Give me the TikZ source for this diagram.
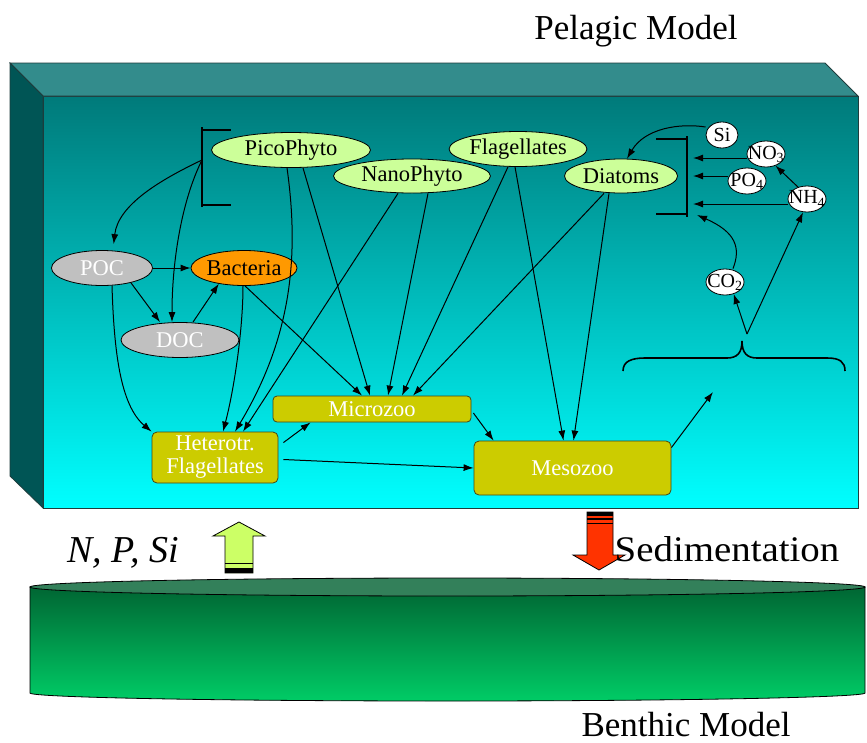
\documentclass[tikz,border=0pt]{standalone}
\usepackage{fontspec}
\setmainfont{Liberation Serif}
\usetikzlibrary{shapes.geometric,arrows.meta}
\definecolor{topface}{RGB}{51,140,140}
\definecolor{leftface}{RGB}{0,85,85}
\definecolor{frtop}{RGB}{0,122,122}
\definecolor{frbot}{RGB}{0,255,255}
\definecolor{edgec}{RGB}{30,60,60}
\definecolor{phyto}{RGB}{204,255,153}
\definecolor{greyc}{RGB}{192,192,192}
\definecolor{bactc}{RGB}{255,153,0}
\definecolor{zooc}{RGB}{204,204,0}
\definecolor{zooedge}{RGB}{70,70,20}
\definecolor{disktop}{RGB}{51,128,90}
\definecolor{diskhi}{RGB}{0,102,51}
\definecolor{disklo}{RGB}{0,204,102}
\definecolor{uparr}{RGB}{204,255,102}
\definecolor{dnarr}{RGB}{255,51,0}
\begin{document}
\begin{tikzpicture}[x=1pt,y=-1pt,
  lab/.style={font=\rmfamily\fontsize{22.5}{23}\selectfont},
  ell/.style={ellipse, draw=black, line width=0.8pt, inner sep=0pt, lab},
  phy/.style={ell, fill=phyto},
  gry/.style={ell, fill=greyc, text=white},
  bac/.style={ell, fill=bactc},
  zoo/.style={rectangle, rounded corners=5pt, draw=zooedge, line width=0.8pt, fill=zooc, text=white, inner sep=0pt, lab, align=center},
  nut/.style={ellipse, draw=black, line width=0.8pt, fill=white, inner sep=0pt, minimum width=38pt, minimum height=26pt, font=\rmfamily\fontsize{20}{20}\selectfont},
  arr/.style={-{Latex[length=10pt,width=7pt]}, line width=1pt},
  brk/.style={line width=2.2pt, line cap=butt},
  big/.style={font=\rmfamily\fontsize{35}{40}\selectfont, inner sep=0pt, anchor=base}
]
\useasboundingbox (0,0) rectangle (867,742);
\fill[white] (0,0) rectangle (867,742);

% pelagic box
\draw[draw=edgec, line width=0.8pt, top color=frtop, bottom color=frbot] (43,96) rectangle (858,508);
\draw[draw=edgec, line width=0.8pt, fill=topface] (10,63) -- (825,63) -- (858,96) -- (43,96) -- cycle;
\draw[draw=edgec, line width=0.8pt, fill=leftface] (10,63) -- (43,96) -- (43,508) -- (10,476) -- cycle;

% benthic disk
\draw[draw=black, line width=0.8pt, top color=diskhi, bottom color=disklo] (30,587) -- (30,693) arc[start angle=180, end angle=0, x radius=417.5, y radius=8] -- (865,587) -- cycle;
\draw[draw=black, line width=0.8pt, fill=disktop] (447.5,587) ellipse[x radius=417.5, y radius=9];

% block arrows
\draw[fill=uparr, line width=0.8pt] (239,522) -- (265,536) -- (253,536) -- (253,573) -- (225,573) -- (225,536) -- (213,536) -- cycle;
\fill (225,567.5) rectangle (253,573);
\draw[line width=1.2pt] (225,563.5) -- (253,563.5);
\draw[fill=dnarr, line width=0.8pt] (587,512) -- (613,512) -- (613,555) -- (625,555) -- (599,570) -- (573,555) -- (587,555) -- cycle;
\fill (587,512) rectangle (613,515.5);
\draw[line width=1.2pt] (587,519) -- (613,519);
\draw[line width=1pt] (587,523) -- (613,523);

% titles
\node[big] (tpel) at (636,39) {Pelagic Model};
\node[big] (tben) at (686,736) {Benthic Model};
\node[big, font=\rmfamily\fontsize{36}{40}\selectfont, xscale=1.08] (tsed) at (727,561) {Sedimentation};
\node[big, font=\rmfamily\itshape\fontsize{38}{40}\selectfont] (tnps) at (123,562) {N, P, Si};

% nodes
\node[phy, minimum width=159pt, minimum height=35pt] (pico) at (291,150) {PicoPhyto};
\node[phy, minimum width=157pt, minimum height=34pt] (nano) at (412,176) {NanoPhyto};
\node[phy, minimum width=128pt, minimum height=35pt] (flag) at (518,149) {Flagellates};
\node[phy, minimum width=113pt, minimum height=34pt] (diat) at (621,176) {Diatoms};
\node[gry, minimum width=101pt, minimum height=35pt] (poc) at (102,268) {POC};
\node[bac, minimum width=100pt, minimum height=35pt] (bact) at (244,268) {Bacteria};
\node[gry, minimum width=118pt, minimum height=35pt] (doc) at (180,340) {DOC};
\node[zoo, rounded corners=4pt, minimum width=198pt, minimum height=26pt] (micro) at (372,409) {Microzoo};
\node[zoo, minimum width=126pt, minimum height=51pt] (hf) at (215,457.5) {Heterotr.\\Flagellates};
\node[zoo, minimum width=197pt, minimum height=54pt] (meso) at (572.5,468) {Mesozoo};

\node[nut, minimum width=32pt] (si) at (722,135) {\makebox[0pt]{Si}};
\node[nut] (no3) at (766,154) {\makebox[0pt]{NO\textsubscript{3}}};
\node[nut] (po4) at (747,181) {\makebox[0pt]{PO\textsubscript{4}}};
\node[nut] (nh4) at (807,199) {\makebox[0pt]{NH\textsubscript{4}}};
\node[nut] (co2) at (725,282) {\makebox[0pt]{CO\textsubscript{2}}};

% brackets
\draw[brk] (202,127) -- (202,207);
\draw[brk] (202,130) -- (231,130);
\draw[brk] (202,205) -- (231,205);
\coordinate (lbm) at (202,160);
\draw[brk] (687,136) -- (687,217);
\draw[brk] (656,139) -- (687,139);
\draw[brk] (656,214) -- (687,214);
\coordinate (rb1) at (693,158);
\coordinate (rb2) at (693,176);
\coordinate (rb3) at (693,204);
\coordinate (rb4) at (697,215);

% curly brace
\draw[line width=1.6pt] (623,371) .. controls (623,361) and (632,358) .. (645,358) -- (727,358) .. controls (737,358) and (742,353) .. (742,341)
  .. controls (742,353) and (747,358) .. (757,358) -- (827,358) .. controls (840,358) and (845,362) .. (845,371);
\coordinate (bt) at (747,334);
\coordinate (mzt) at (713,392);

% connectors
\draw[arr] ([xshift=-4]pico.south) .. controls (300,260) and (290,340) .. ([xshift=20]hf.north);
\draw[arr] ([xshift=12]pico.south) -- ([xshift=-2]micro.north);
\draw[arr] ([xshift=-1]bact.south) .. controls (243,330) and (234,390) .. ([xshift=8]hf.north);
\draw[arr] ([xshift=1]bact.south) -- ([xshift=-10]micro.north);
\draw[arr] ([xshift=-14]nano.south) -- ([xshift=28]hf.north);
\draw[arr] ([xshift=16]nano.south) -- ([xshift=16]micro.north);
\draw[arr] ([xshift=-10]flag.south) -- ([xshift=30]micro.north);
\draw[arr] ([xshift=-3]flag.south) -- ([xshift=-9]meso.north);
\draw[arr] ([xshift=-17]diat.south) -- ([xshift=41]micro.north);
\draw[arr] ([xshift=-12]diat.south) -- ([xshift=1]meso.north);
\draw[arr] (poc.east) -- (bact.west);
\draw[arr] (poc.333) -- ([xshift=-20]doc.north);
\draw[arr, shorten >=6pt] (lbm) .. controls (160,180) and (118,205) .. ([xshift=11]poc.north);
\draw[arr] (lbm) .. controls (182,200) and (172,260) .. ([xshift=-8]doc.north);
\draw[arr] ([xshift=10]poc.south) .. controls (114,350) and (120,405) .. (hf.north west);
\draw[arr] ([xshift=13]doc.north) -- (bact.212.7);
\draw[arr] ([xshift=5,yshift=-11]hf.north east) -- ([xshift=38]micro.south west);
\draw[arr] ([xshift=5,yshift=-2]hf.east) -- (meso.west);
\draw[arr] ([xshift=2,yshift=-4]micro.east) -- ([xshift=20]meso.north west);
\draw[arr] ([yshift=-7]meso.north east) -- (mzt);
\draw[arr] (bt) -- (co2.306);
\draw[arr] (bt) -- ([xshift=-4]nh4.south);
\draw[arr] ([xshift=8]co2.north) .. controls (741,248) and (736,232) .. (rb4);
\draw[arr] ([yshift=-4]no3.west) -- (rb1);
\draw[arr] ([yshift=5]po4.west) -- (rb2);
\draw[arr] ([yshift=-5]nh4.west) -- (rb3);
\draw[arr] (nh4.127) -- (no3.309);
\draw[arr] ([yshift=8]si.west) .. controls (680,123) and (645,128) .. ([xshift=6]diat.north);
\end{tikzpicture}
\end{document}
